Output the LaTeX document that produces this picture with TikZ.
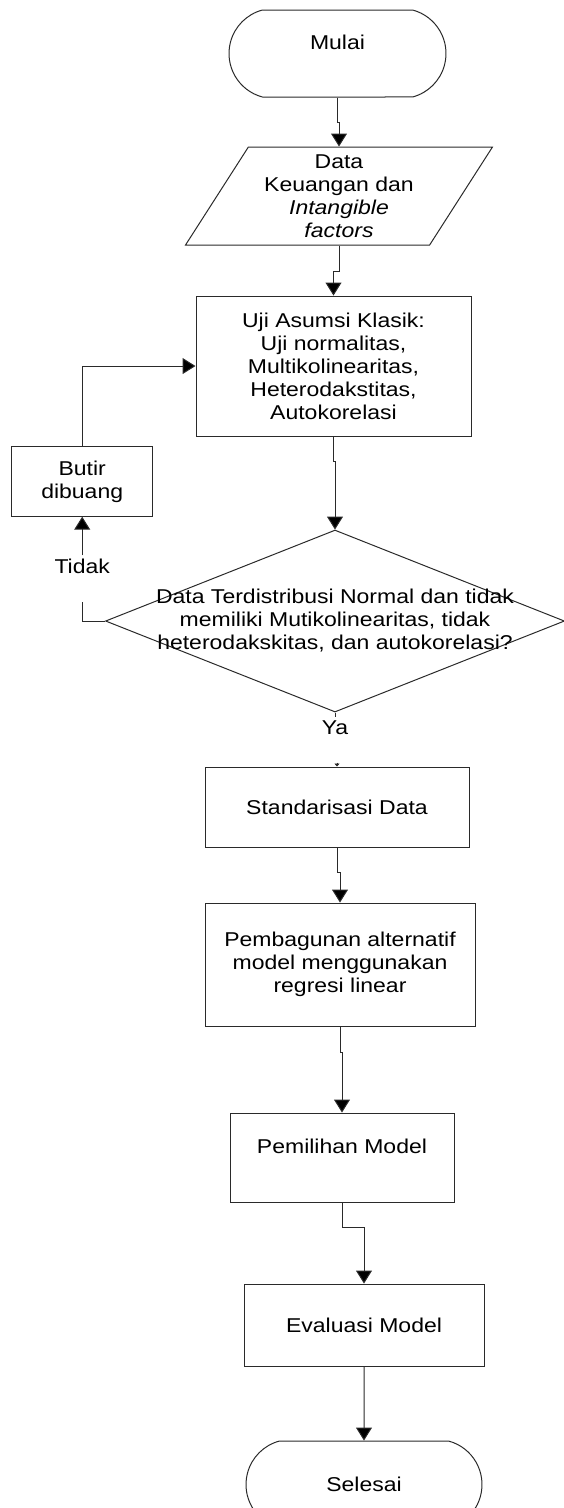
\documentclass[tikz,border=0pt]{standalone}
\usepackage{fontspec}
\setmainfont{Liberation Sans}[FakeStretch=1.15]
\usetikzlibrary{
  arrows.meta,
  shapes.geometric,
  shapes.misc,
  positioning
}
\definecolor{fcLine}{HTML}{2A2A2A}
\tikzset{
  fcnode/.style={
    draw=fcLine, line width=1pt, align=center, inner sep=2pt,
    font=\fontsize{20}{23}\selectfont
  },
  terminal/.style={fcnode, rounded rectangle, rounded rectangle arc length=150,
    minimum width=221pt, minimum height=87pt},
  iobox/.style={fcnode, trapezium, trapezium left angle=58.5, trapezium right angle=121.5,
    trapezium stretches=true, minimum width=308pt, minimum height=98pt},
  procbox/.style={fcnode, rectangle},
  decision/.style={fcnode, diamond, inner sep=0pt, minimum width=459pt, minimum height=182pt},
  flow/.style={-{Triangle[length=13pt, width=16pt, fill=black]}, line width=1pt, fcLine},
  link/.style={line width=1pt, fcLine},
  tag/.style={font=\fontsize{20}{23}\selectfont, fill=white, inner sep=3pt}
}

\begin{document}
\begin{tikzpicture}[x=1pt, y=1pt]
  \useasboundingbox (0,0) rectangle (563,-1508);
  \node[terminal] (start) at (337.5,-53.5) {Mulai\\~};
  \node[iobox, below=49pt of start, xshift=1.5pt] (data) {Data\\Keuangan dan\\\textit{Intangible}\\\textit{factors}};
  \node[procbox, minimum width=275pt, minimum height=140pt, below=50pt of data, xshift=-5.5pt] (uji)
    {Uji Asumsi Klasik:\\Uji normalitas,\\Multikolinearitas,\\Heterodakstitas,\\Autokorelasi};
  \node[procbox, minimum width=141pt, minimum height=69.5pt, below left=9.7pt and 42.3pt of uji] (butir) {Butir\\dibuang};
  \node[decision, below=93pt of uji, xshift=1.5pt] (dec) {};
  \node[font=\fontsize{20}{23}\selectfont, align=center] (dectext) at (dec)
    {Data Terdistribusi Normal dan tidak\\memiliki Mutikolinearitas, tidak\\heterodakskitas, dan autokorelasi?};
  \node[tag, below=4.75pt of dec] (ya) {Ya};
  \node[tag, below=38.75pt of butir] (tidak) {Tidak};
  \coordinate[below=25.75pt of tidak] (tidakend);
  \node[procbox, minimum width=264pt, minimum height=80pt, below=54pt of dec, xshift=2pt] (std) {Standarisasi Data};
  \coordinate[above=4pt of std.north] (yaend);
  \node[procbox, minimum width=270pt, minimum height=123pt, below=55pt of std, xshift=3pt] (model)
    {Pembagunan alternatif\\model menggunakan\\regresi linear};
  \node[procbox, minimum width=224pt, minimum height=89pt, below=86pt of model, xshift=2pt] (pilih) {Pemilihan Model\\~};
  \node[procbox, minimum width=240pt, minimum height=82pt, below=81pt of pilih, xshift=22pt] (eval) {Evaluasi Model};
  \node[terminal, minimum width=240pt, below=74pt of eval] (stop) {Selesai};

  \draw[flow] (start.south) -- ++(0,-25) -| (data.north);
  \draw[flow] (data.south) -- ++(0,-26) -| (uji.north);
  \draw[flow] (uji.south) -- ++(0,-25) -| (dec.north);
  \draw[flow] (butir.north) |- (uji.west);
  \draw[link] (dec.west) -| (tidakend);
  \draw[flow] (tidak.north) -- (butir.south);
  \draw[link] (dec.south) -- (ya.north);
  \draw[link, -{Triangle[length=3pt, width=5pt]}] (yaend) -- (std.north);
  \draw[flow] (std.south) -- ++(0,-25) -| (model.north);
  \draw[flow] (model.south) -- ++(0,-26) -| (pilih.north);
  \draw[flow] (pilih.south) -- ++(0,-25) -| (eval.north);
  \draw[flow] (eval) -- (stop);
\end{tikzpicture}
\end{document}
